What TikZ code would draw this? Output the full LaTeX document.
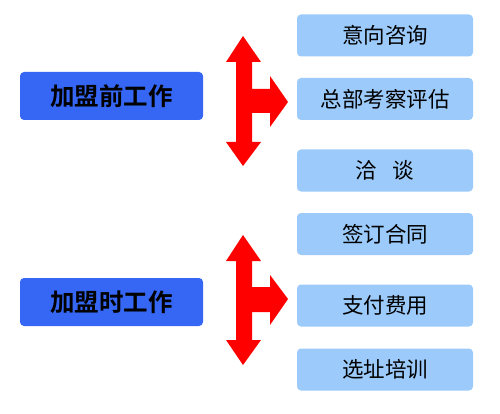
\documentclass[tikz,border=0pt]{standalone}
\usepackage{fontspec}
\newfontfamily\cjk{Noto Sans CJK SC}
\newfontfamily\cjkb{Noto Sans CJK SC Bold}
\definecolor{darkblue}{HTML}{3566F4}
\definecolor{lightblue}{HTML}{9CCBFB}
\definecolor{arrowred}{HTML}{FF0000}
\begin{document}
\begin{tikzpicture}[x=1pt,y=-1pt,
  mainbox/.style={fill=darkblue,rounded corners=4pt,minimum width=183pt,minimum height=48pt,inner sep=0pt,font=\cjkb\fontsize{24.5}{24.5}\selectfont,text=black},
  subbox/.style={fill=lightblue,rounded corners=4pt,minimum width=176pt,minimum height=42pt,inner sep=0pt,font=\cjk\fontsize{21.5}{21.5}\selectfont,text=black},
  blockarrow/.style={fill=arrowred}]
\useasboundingbox (0,0) rectangle (500,414);
\fill[white] (0,0) rectangle (500,414);
\node[mainbox] (m1) at (111.5,96) {加盟前工作};
\node[mainbox] (m2) at (111.5,302) {加盟时工作};
\node[subbox] (s1) at (385,35.5) {意向咨询};
\node[subbox] (s2) at (385,99) {总部考察评估};
\node[subbox] (s3) at (385,170.5) {洽\hspace{0.7em}谈};
\node[subbox] (s4) at (385,234) {签订合同};
\node[subbox] (s5) at (385,305.5) {支付费用};
\node[subbox] (s6) at (385,369.5) {选址培训};
% block arrows
\fill[blockarrow] (243,36) -- (261,62) -- (252,62) -- (252,89) -- (270,89) -- (270,76) -- (288,102)
  -- (270,127) -- (270,113) -- (252,113) -- (252,142) -- (261,142) -- (243,166) -- (226,142)
  -- (236,142) -- (236,62) -- (226,62) -- cycle;
\fill[blockarrow] (243,235) -- (261,261) -- (252,261) -- (252,287) -- (270,287) -- (270,275) -- (288,299)
  -- (270,325) -- (270,312) -- (252,312) -- (252,340) -- (261,340) -- (243,365) -- (226,340)
  -- (236,340) -- (236,261) -- (226,261) -- cycle;
\end{tikzpicture}
\end{document}
